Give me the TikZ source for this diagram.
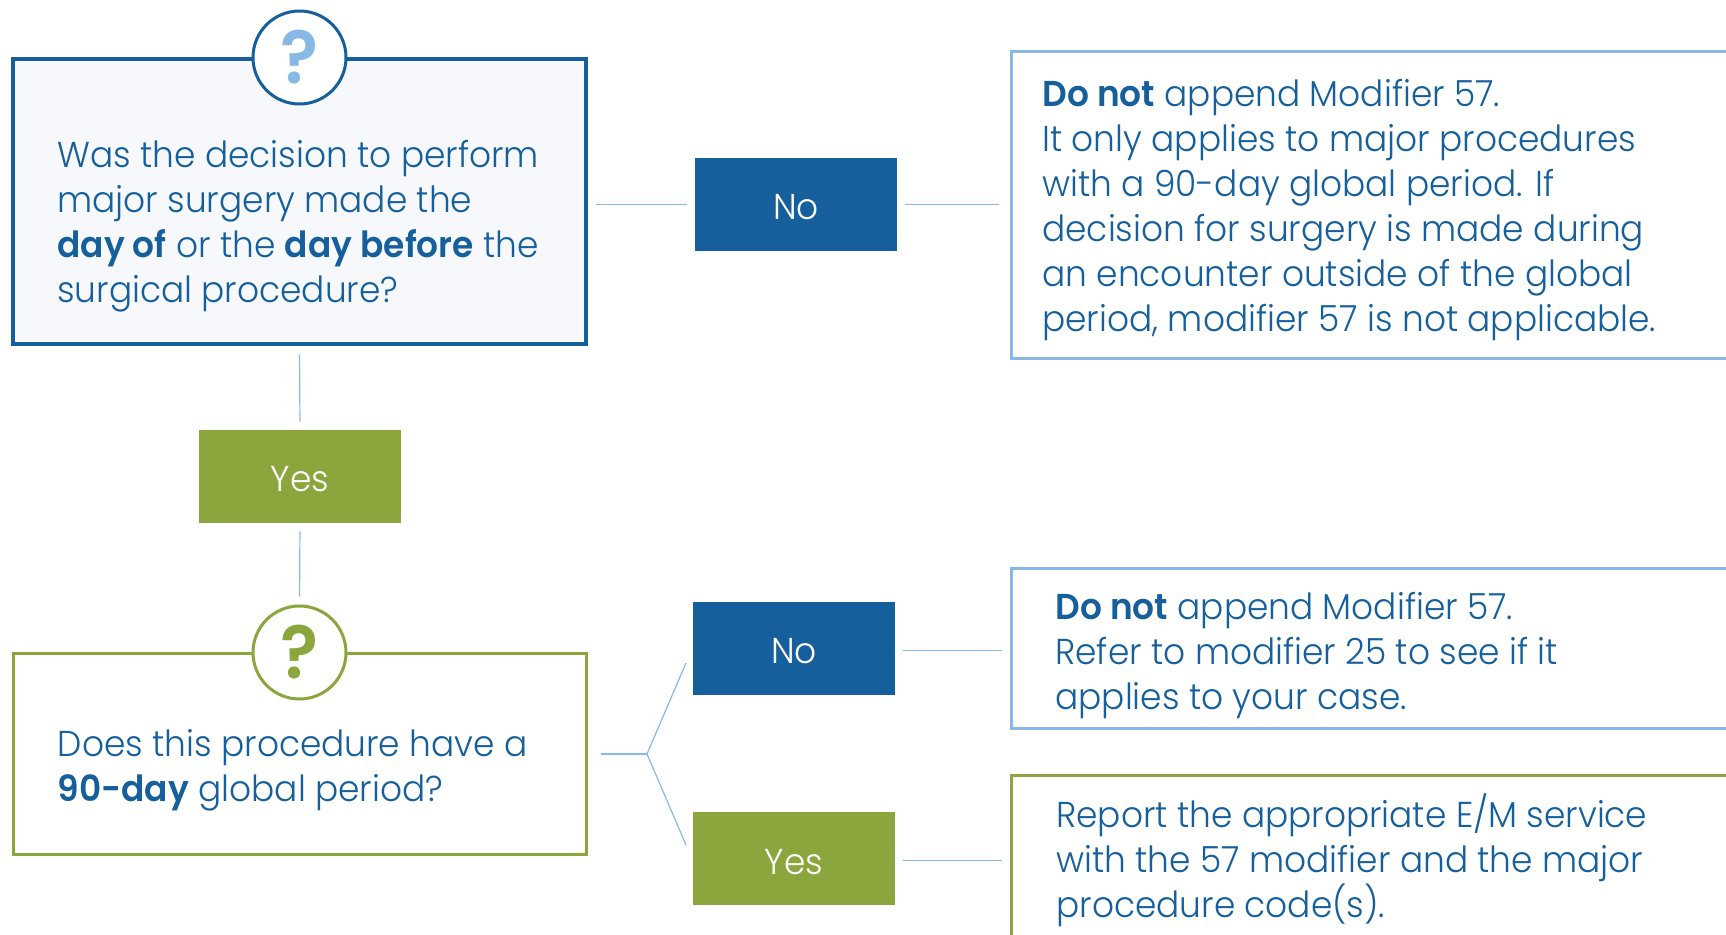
\documentclass[tikz,border=0pt]{standalone}
\usepackage{fontspec}
\setmainfont{Poppins Light}[BoldFont=Poppins SemiBold,FakeStretch=0.955]
\usetikzlibrary{positioning}
\definecolor{darkblue}{HTML}{155F9C}
\definecolor{lightblue}{HTML}{88B9E6}
\definecolor{leafgreen}{HTML}{8AA63C}
\definecolor{paleblue}{HTML}{F6F8FB}
\newcommand{\bodyfont}{\fontsize{18}{22.5}\selectfont}

\begin{document}
\begin{tikzpicture}[x=0.5pt,y=-0.5pt,
  textbox/.style={draw,line width=1.5pt,inner sep=0pt},
  bodytext/.style={inner sep=0pt,align=left,text=darkblue,font=\bodyfont},
  askbox/.style={textbox,minimum width=286.5pt},
  leafbox/.style={textbox,anchor=west,minimum width=400pt},
  answer/.style={minimum width=101pt,minimum height=46.5pt,inner sep=0pt,text=white,text height=15.5pt,text depth=0pt,font=\bodyfont},
  nobox/.style={answer,fill=darkblue},
  yesbox/.style={answer,fill=leafgreen},
  askmark/.style={circle,draw,line width=1.5pt,fill=white,minimum size=46.5pt,inner sep=0pt,font=\fontsize{37}{37}\selectfont\bfseries},
  link/.style={draw=lightblue,line width=0.6pt,shorten <=4pt,shorten >=4pt}]
  \useasboundingbox (0,0) rectangle (1726,935);

  %top question
  \node[askbox,name=qone,draw=darkblue,fill=paleblue,line width=2pt,minimum height=142.5pt,at={(299.5,202)}]{};
  \node[bodytext,right=23pt of qone.west,yshift=-12pt]{Was the decision to perform\\major surgery made the\\\textbf{day of} or the \textbf{day before} the\\surgical procedure?};
  \node[askmark,name=markone,draw=darkblue,text=lightblue,at=(qone.north)]{\raisebox{-3pt}{?}};
  \node[nobox,name=noone,at={(796,204.5)}]{No};
  \node[leafbox,name=leafone,draw=lightblue,minimum height=153.5pt,at={(1010,205.5)}]{};
  \node[bodytext,right=16pt of leafone.west,yshift=-2.25pt]{\textbf{Do not} append Modifier 57.\\It only applies to major procedures\\with a 90-day global period. If\\decision for surgery is made during\\an encounter outside of the global\\period, modifier 57 is not applicable.};

  %middle
  \node[yesbox,name=yesone,at={(300,476.5)}]{Yes};

  %bottom question
  \node[askbox,name=qtwo,draw=leafgreen,minimum height=100pt,at={(299.5,754)}]{};
  \node[bodytext,right=23pt of qtwo.west,yshift=-8.25pt]{Does this procedure have a\\\textbf{90-day} global period?};
  \node[askmark,name=marktwo,draw=leafgreen,text=leafgreen,at=(qtwo.north)]{\raisebox{-3pt}{?}};
  \node[nobox,name=notwo,at={(794,648.5)}]{No};
  \node[yesbox,name=yestwo,at={(794,858.5)}]{Yes};
  \node[leafbox,name=leaftwo,draw=lightblue,minimum height=80pt,at={(1010,649)}]{};
  \node[bodytext,right=22.5pt of leaftwo.west,yshift=-3.25pt]{\textbf{Do not} append Modifier 57.\\Refer to modifier 25 to see if it\\applies to your case.};
  \node[leafbox,name=leafthree,draw=leafgreen,minimum height=160pt,at={(1010,935)}]{};
  \node[bodytext,anchor=west,at={(1056,860)}]{Report the appropriate E/M service\\with the 57 modifier and the major\\procedure code(s).};

  %connectors
  \draw[link] (qone.east |- noone.west) -- (noone.west);
  \draw[link,shorten >=5.5pt] (noone.east) -- (noone.east -| leafone.west);
  \draw[link] (qone.south) -- (yesone.north);
  \draw[link] (yesone.south) -- (marktwo.north);
  \coordinate (fork) at (647,754);
  \coordinate (forkno) at (686,663);
  \coordinate (forkyes) at (686,845);
  \draw[link,shorten <=6.5pt,shorten >=0pt] (qtwo.east) -- (fork);
  \draw[link,shorten <=0pt,shorten >=0pt] (forkno) -- (fork) -- (forkyes);
  \draw[link] ([yshift=-1pt]notwo.east) -- ([yshift=-1pt]notwo.east -| leaftwo.west);
  \draw[link] ([yshift=-1pt]yestwo.east) -- ([yshift=-1pt]yestwo.east -| leafthree.west);
\end{tikzpicture}
\end{document}
